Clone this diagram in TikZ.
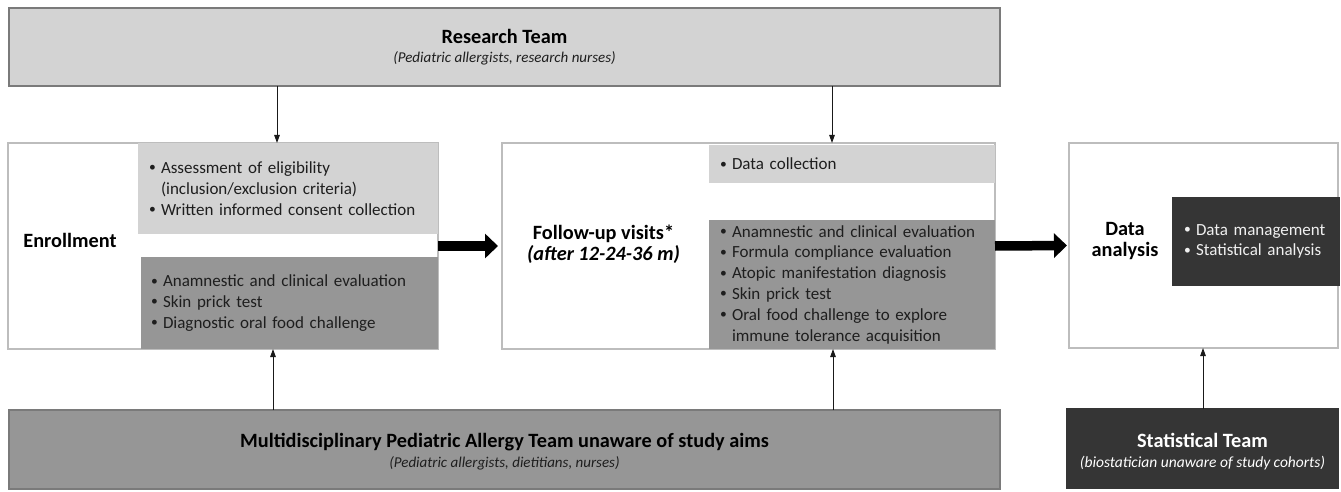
\documentclass[tikz,border=0pt]{standalone}
\usepackage{fontspec}
\usepackage{graphicx}
\setmainfont{Carlito}
\usetikzlibrary{arrows.meta}
\definecolor{lightfill}{HTML}{D3D3D3}
\definecolor{midfill}{HTML}{969696}
\definecolor{darkfill}{HTML}{353535}
\definecolor{outerline}{HTML}{BDBDBD}
\definecolor{teamline}{HTML}{7A7A7A}
\definecolor{txt}{HTML}{1E1E1E}
\definecolor{lighttxt}{HTML}{F0F0F0}
\newcommand\bul{\makebox[13pt][l]{\hspace{1pt}\raisebox{0.2ex}{\scalebox{0.8}{\textbullet}}}}
\newcommand\ind{\hspace*{13pt}}
\tikzset{
 box/.style={rectangle, inner sep=0pt, outer sep=0pt},
 outerbox/.style={box, draw=outerline, line width=1.2pt, fill=white},
 teambox/.style={box, draw=teamline, line width=1.2pt},
 listbox/.style={box, align=left, inner xsep=10pt, font=\fontsize{17}{20.8}\selectfont, text=txt},
 titletext/.style={font=\fontsize{20.3}{24}\selectfont\bfseries, text=black, anchor=base},
 subtext/.style={font=\fontsize{15}{18}\selectfont\itshape, text=txt, anchor=base},
 thinarr/.style={draw=black!90, line width=1pt, -{Triangle[length=8pt,width=5.5pt]}},
 bigarr/.style={draw=black, line width=9.5pt, -{Triangle[length=13pt,width=24pt]}}
}
\begin{document}
\begin{tikzpicture}[x=1pt,y=-1pt]
\useasboundingbox (0,0) rectangle (1341,492);

% Research team
\node[teambox, fill=lightfill, minimum width=991pt, minimum height=78pt] (rt) at (504.5,47) {};
\node[titletext] (rtT) at (504.5,44) {Research Team};
\node[subtext] (rtS) at (504.5,63) {(Pediatric allergists, research nurses)};

% Enrollment
\node[outerbox, minimum width=430pt, minimum height=206pt] (en) at (223,246) {};
\node[listbox, fill=lightfill, minimum height=91pt, text width=280pt] (enL) at (288,188.5)
 {\bul Assessment of eligibility\\ \ind(inclusion/exclusion criteria)\\ \bul Written informed consent collection};
\node[listbox, fill=midfill, minimum height=92pt, text width=279pt, inner xsep=9pt] (enD) at (289.5,303)
 {\bul Anamnestic and clinical evaluation\\ \bul Skin prick test\\ \bul Diagnostic oral food challenge};
\node[titletext] (enT) at (70,247) {Enrollment};

% Follow-up
\node[outerbox, minimum width=493pt, minimum height=206pt] (fu) at (748.5,246) {};
\node[listbox, fill=lightfill, minimum height=38pt, text width=266pt] (fuL) at (852,164)
 {\bul Data collection};
\node[listbox, fill=midfill, minimum height=129pt, text width=266pt] (fuD) at (852,284.5)
 {\bul Anamnestic and clinical evaluation\\ \bul Formula compliance evaluation\\ \bul Atopic manifestation diagnosis\\ \bul Skin prick test\\ \bul Oral food challenge to explore\\ \ind immune tolerance acquisition};
\node[titletext] (fuT) at (603.5,239) {Follow-up visits*};
\node[titletext, font=\fontsize{20.3}{24}\selectfont\bfseries\itshape] (fuT2) at (603.5,260) {(after 12-24-36 m)};

% Data analysis
\node[outerbox, minimum width=269pt, minimum height=205pt] (da) at (1203.5,245.5) {};
\node[listbox, fill=darkfill, text=lighttxt, minimum height=89pt, text width=146pt, inner xsep=11pt] (daD) at (1256,241.5)
 {\bul Data management\\ \bul Statistical analysis};
\node[titletext] (daT) at (1125,235) {Data};
\node[titletext] (daT2) at (1125,256) {analysis};

% Bottom teams
\node[teambox, fill=midfill, minimum width=991pt, minimum height=79pt] (md) at (504.5,449.5) {};
\node[titletext] (mdT) at (504.5,447) {Multidisciplinary Pediatric Allergy Team unaware of study aims};
\node[subtext] (mdS) at (504.5,467) {(Pediatric allergists, dietitians, nurses)};

\node[teambox, fill=darkfill, draw=darkfill, minimum width=271pt, minimum height=79pt] (st) at (1202.5,448.5) {};
\node[titletext, text=white] (stT) at (1202.5,447) {Statistical Team};
\node[subtext, text=white, font=\fontsize{15.5}{18}\selectfont\itshape] (stS) at (1202.5,467) {(biostatician unaware of study cohorts)};

% connectors
\coordinate (xa) at (277,0);
\coordinate (xb) at (832,0);
\coordinate (xc) at (273,0);
\coordinate (xd) at (833,0);
\coordinate (xe) at (1203,0);
\draw[thinarr] (rt.south -| xa) -- (en.north -| xa);
\draw[thinarr] (rt.south -| xb) -- (fu.north -| xb);
\draw[thinarr] (md.north -| xc) -- (en.south -| xc);
\draw[thinarr] (md.north -| xd) -- (fu.south -| xd);
\draw[thinarr] (st.north -| xe) -- (da.south -| xe);
\draw[bigarr, shorten >=4pt] (en.east) -- (fu.west);
\draw[bigarr, shorten >=2pt] (fu.east) -- (da.west);
\end{tikzpicture}
\end{document}
